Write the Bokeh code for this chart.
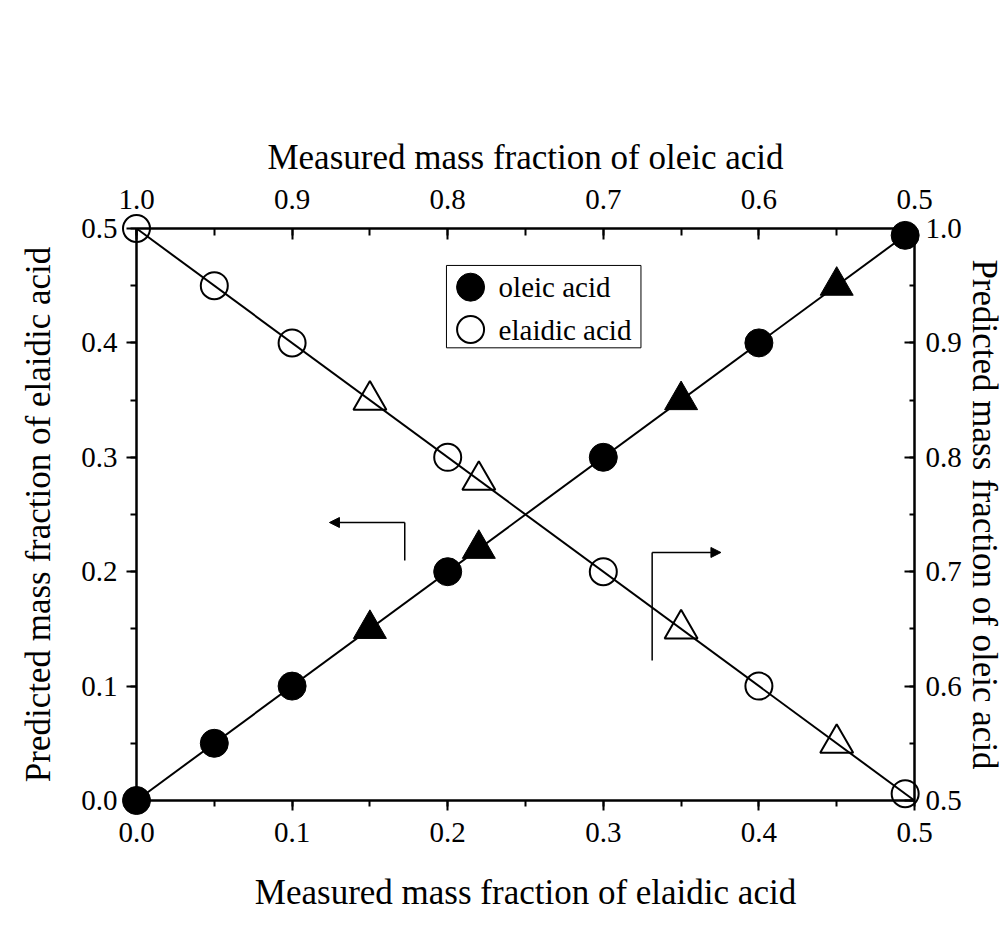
import numpy as np
from bokeh.plotting import figure
from bokeh.models import (Range1d, LinearAxis, SingleIntervalTicker, PrintfTickFormatter,
                          Arrow, NormalHead)
from bokeh.core.properties import value
from bokeh.embed import file_html
from bokeh.resources import INLINE

# ---------------- data ----------------
# filled markers: measured vs predicted elaidic acid (bottom / left axes)
elaidic_circle_meas = [0.0, 0.05, 0.1, 0.2, 0.3, 0.4, 0.494]
elaidic_circle_pred = [0.0, 0.05, 0.1, 0.2, 0.3, 0.4, 0.494]
elaidic_tri_meas = [0.15, 0.22, 0.35, 0.45]
elaidic_tri_pred = [0.15, 0.22, 0.35, 0.45]
# open markers: measured vs predicted oleic acid (top / right axes)
oleic_circle_meas = [1.0, 0.95, 0.9, 0.8, 0.7, 0.6, 0.506]
oleic_circle_pred = [1.0, 0.95, 0.9, 0.8, 0.7, 0.6, 0.506]
oleic_tri_meas = [0.85, 0.78, 0.65, 0.55]
oleic_tri_pred = [0.85, 0.78, 0.65, 0.55]

legend_labels = ["oleic acid", "elaidic acid"]

# annotation geometry (data units of bottom/left axes)
arrow_left_x = [0.1724, 0.1724, 0.124]
arrow_left_y = [0.2098, 0.243, 0.243]
arrow_right_x = [0.3314, 0.3314, 0.3756]
arrow_right_y = [0.1224, 0.2168, 0.2168]
legend_box = dict(left=0.1992, right=0.3242, top=0.4677, bottom=0.3957)
legend_marker_x = 0.2147
legend_text_x = 0.2327
legend_row_y = [0.4487, 0.4117]

FONT = "Liberation Serif"

p = figure(width=1006, height=928, x_range=Range1d(0, 0.5), y_range=Range1d(0, 0.5),
           x_axis_type=None, y_axis_type=None, output_backend="svg", toolbar_location=None,
           min_border_left=136, min_border_right=90, min_border_top=228, min_border_bottom=128)
p.extra_x_ranges = {"top": Range1d(1.0, 0.5)}
p.extra_y_ranges = {"right": Range1d(0.5, 1.0)}
p.outline_line_color = "black"
p.outline_line_width = 2
p.background_fill_color = "white"
p.border_fill_color = "white"


def style(ax, tin, tout, min_in, min_out, lab_standoff, title_standoff, title):
    ax.ticker = SingleIntervalTicker(interval=0.1, num_minor_ticks=2)
    ax.formatter = PrintfTickFormatter(format="%.1f")
    ax.axis_label = title
    ax.axis_label_text_font = FONT
    ax.axis_label_text_font_size = "35px"
    ax.axis_label_text_font_style = "normal"
    ax.axis_label_text_color = "black"
    ax.axis_label_standoff = title_standoff
    ax.major_label_text_font = FONT
    ax.major_label_text_font_size = "29px"
    ax.major_label_text_color = "black"
    ax.major_label_standoff = lab_standoff
    ax.axis_line_width = 2
    ax.axis_line_color = "black"
    ax.major_tick_line_width = 2
    ax.minor_tick_line_width = 2
    ax.major_tick_line_color = "black"
    ax.minor_tick_line_color = "black"
    ax.major_tick_in = tin
    ax.major_tick_out = tout
    ax.minor_tick_in = min_in
    ax.minor_tick_out = min_out


bottom = LinearAxis()
style(bottom, 0, 10, 0, 6, 12, 28, "Measured mass fraction of elaidic acid")
p.add_layout(bottom, "below")
left = LinearAxis()
style(left, 0, 10, 0, 6, 9, 20, "Predicted mass fraction of elaidic acid")
p.add_layout(left, "left")
top = LinearAxis(x_range_name="top")
style(top, 11, 0, 7, 0, 20, 10, "Measured mass fraction of oleic acid")
p.add_layout(top, "above")
right = LinearAxis(y_range_name="right")
style(right, 10, 0, 5, 0, 11, 0, "Predicted mass fraction of oleic acid")
p.add_layout(right, "right")

# fitted lines
ex = np.array(elaidic_circle_meas + elaidic_tri_meas)
ey = np.array(elaidic_circle_pred + elaidic_tri_pred)
k1, b1 = np.polyfit(ex, ey, 1)
fx1 = np.array([p.x_range.start, p.x_range.end])
p.line(fx1, k1 * fx1 + b1, line_color="black", line_width=2)

ox = np.array(oleic_circle_meas + oleic_tri_meas)
oy = np.array(oleic_circle_pred + oleic_tri_pred)
k2, b2 = np.polyfit(ox, oy, 1)
fx2 = np.array([1.0, 0.5])
p.line(fx2, k2 * fx2 + b2, line_color="black", line_width=2,
       x_range_name="top", y_range_name="right")

# markers
p.scatter(elaidic_circle_meas, elaidic_circle_pred, marker="circle", size=28,
          fill_color="black", line_color="black", level="overlay")
p.scatter(elaidic_tri_meas, elaidic_tri_pred, marker="triangle", size=33,
          fill_color="black", line_color="black", level="overlay")
p.scatter(oleic_circle_meas, oleic_circle_pred, marker="circle", size=27,
          fill_color=None, line_color="black", line_width=2, level="overlay",
          x_range_name="top", y_range_name="right")
p.scatter(oleic_tri_meas, oleic_tri_pred, marker="triangle", size=33,
          fill_color=None, line_color="black", line_width=2, level="overlay",
          x_range_name="top", y_range_name="right")

# arrows
for ax_, ay_ in [(arrow_left_x, arrow_left_y), (arrow_right_x, arrow_right_y)]:
    p.line(ax_[:2], ay_[:2], line_color="black", line_width=1.5)
    p.add_layout(Arrow(end=NormalHead(size=10, fill_color="black", line_color="black", line_width=1),
                       x_start=ax_[1], y_start=ay_[1], x_end=ax_[2], y_end=ay_[2],
                       line_color="black", line_width=1.5))

# legend (manual)
p.quad(left=[legend_box["left"]], right=[legend_box["right"]], top=[legend_box["top"]],
       bottom=[legend_box["bottom"]], fill_color="white", line_color="black", line_width=1,
       level="overlay")
p.scatter([legend_marker_x], [legend_row_y[0]], marker="circle", size=28,
          fill_color="black", line_color="black", level="overlay")
p.scatter([legend_marker_x], [legend_row_y[1]], marker="circle", size=27,
          fill_color=None, line_color="black", line_width=2, level="overlay")
p.text([legend_text_x] * 2, legend_row_y, text=legend_labels, text_font=value(FONT),
       text_font_size=value("29px"), text_baseline="middle", text_align="left",
       text_color="black", level="overlay")

open("out.html", "w").write(file_html(p, INLINE))
